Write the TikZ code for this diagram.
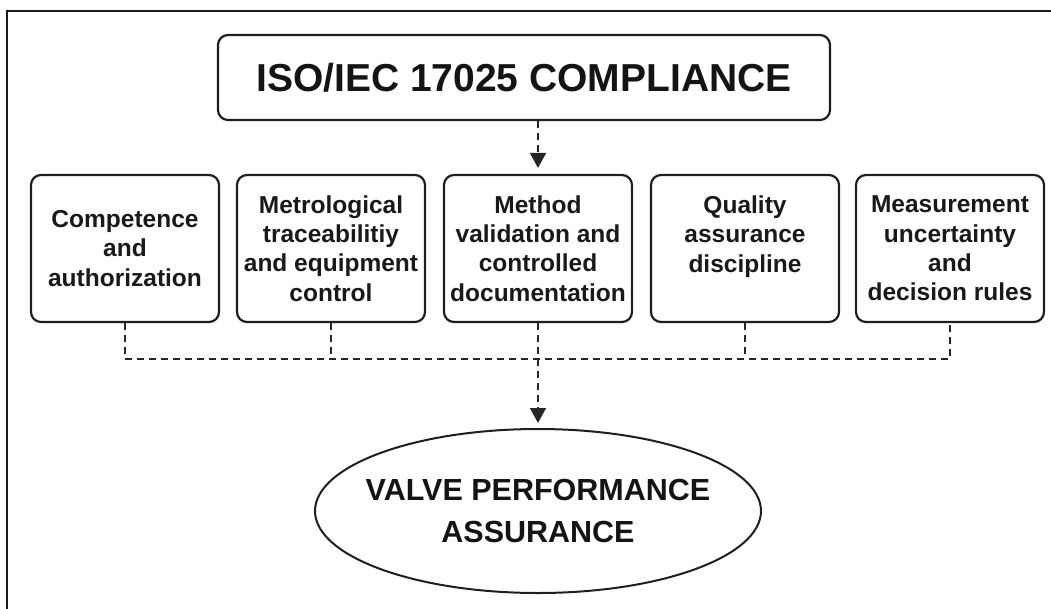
\documentclass[tikz,border=0pt]{standalone}
\usepackage{fontspec}
\setmainfont{Liberation Sans}
\usetikzlibrary{arrows.meta,shapes.geometric}
\begin{document}
\begin{tikzpicture}[x=1pt,y=-1pt,
  stroke/.style={draw=black!88},
  topbox/.style={stroke, line width=2.2pt, rounded corners=10pt, minimum width=612pt, minimum height=85pt, inner sep=0pt, font=\fontsize{39}{46}\selectfont\bfseries, text=black!92},
  itembox/.style={stroke, line width=2.2pt, rounded corners=10pt, minimum width=188pt, minimum height=147pt, inner sep=0pt, align=center, font=\fontsize{24.5}{29.3}\selectfont\bfseries, text=black!90},
  goal/.style={stroke, ellipse, line width=2pt, minimum width=446pt, minimum height=164pt, inner xsep=-30pt, inner ysep=0pt, align=center, font=\fontsize{30.5}{42}\selectfont\bfseries, text=black!92},
  dashline/.style={draw=black!85, line width=1.8pt, dash pattern=on 7pt off 5pt},
  arrowline/.style={dashline, -{Triangle[length=15pt,width=16pt]}}
]
\useasboundingbox (0,0) rectangle (1051,608);
\clip (0,0) rectangle (1051,608);
% outer frame (only left and top edges visible)
\draw[black!90, line width=2.5pt] (7,640) -- (7,11) -- (1080,11);

\node[topbox] (iso) at (524,77.5) {ISO/IEC 17025 COMPLIANCE};

\node[itembox] (b1) at (125,248.5) {Competence\\and\\authorization};
\node[itembox] (b2) at (331,248.5) {Metrological\\traceabilitiy\\and equipment\\control};
\node[itembox] (b3) at (538,248.5) {Method\\validation and\\controlled\\documentation};
\node[itembox] (b4) at (745,248.5) {Quality\\assurance\\discipline\\\mbox{}};
\node[itembox] (b5) at (950,248.5) {Measurement\\uncertainty\\and\\decision rules};

\node[goal] (val) at (538,511) {VALVE PERFORMANCE\\ASSURANCE};

\coordinate (hl) at (125,359);
\coordinate (hr) at (950,359);

\draw[arrowline, shorten >=6pt] (b3.north |- iso.south) -- (b3.north);
\draw[dashline] (b1.south) -- (hl) -- (hr) -- (b5.south);
\draw[dashline] (b2.south) -- (b2.south |- hl);
\draw[dashline] (b4.south) -- (b4.south |- hl);
\draw[arrowline, shorten >=5pt] (b3.south) -- (val.north);
\end{tikzpicture}
\end{document}
